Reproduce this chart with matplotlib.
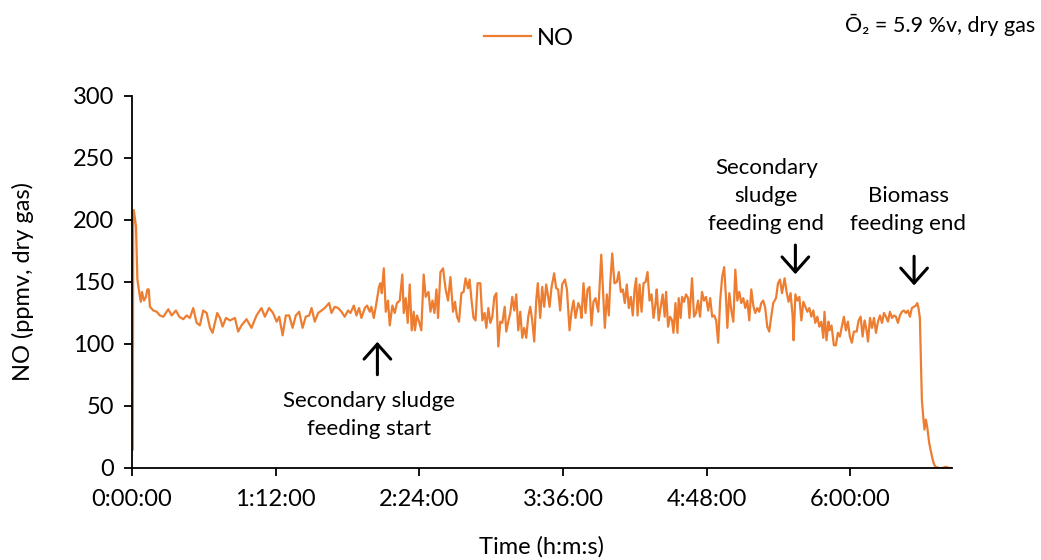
import matplotlib
matplotlib.use("Agg")
import matplotlib.pyplot as plt
from matplotlib.ticker import FuncFormatter, MultipleLocator

# NO concentration; time in minutes from start
time_min = [
    0.4, 0.6, 0.9, 2.0, 2.7, 3.7, 4.4, 5.0, 6.0, 7.0, 7.7, 8.4, 9.0, 10.7, 12.4,
    14.0, 15.7, 18.2, 19.9, 22.0, 23.7, 25.7, 27.4, 29.0, 30.7, 32.4, 34.0,
    35.7, 37.4, 39.1, 40.4, 42.7, 44.1, 45.4, 47.1, 49.1, 51.6, 53.2, 54.9,
    57.4, 59.9, 62.4, 64.9, 66.6, 68.7,
    70.7, 72.5, 73.8, 75.5, 77.1, 78.8, 80.5, 82.1, 83.8, 85.5, 87.1, 88.8,
    90.0, 91.6, 93.3, 95.0, 96.6, 98.8, 100.0, 101.6, 103.3, 105.0, 106.6,
    108.3, 109.5, 111.2, 112.5, 113.8, 115.0, 116.7, 117.8, 119.2, 120.0,
    121.2, 122.5, 123.8, 124.5, 125.2, 126.2, 127.2, 128.3, 129.2, 130.5,
    131.7, 132.8, 134.2, 135.5,
    136.2, 137.2, 138.2, 139.2, 140.2, 141.2, 141.8, 142.8, 143.9, 145.0,
    146.2, 147.2, 148.6, 149.6, 150.6, 151.6, 152.6, 153.4, 154.6, 155.9,
    157.2, 158.4, 159.6, 160.9, 161.9, 162.9, 163.9, 165.1, 166.2, 167.2,
    168.4, 169.2, 170.2, 171.2, 172.2, 173.2, 174.6, 175.6, 176.7, 177.6,
    178.6, 179.6, 180.6, 181.6, 182.6, 183.6, 184.6, 185.6, 186.8, 187.6,
    188.6, 189.6, 190.6, 191.6, 192.6, 193.6, 194.6, 195.6, 196.6, 197.6,
    198.6, 199.6, 200.6, 201.6, 202.6, 203.4, 204.6, 205.6, 206.6, 207.6,
    208.6,
    209.3, 210.3, 211.6, 212.6, 213.6, 214.6, 215.6, 217.0, 218.0, 219.3,
    220.3, 221.3, 222.3, 223.7, 224.7, 225.3, 226.3, 227.3, 228.3, 229.3,
    230.3, 231.3, 232.3, 233.7, 235.2, 236.0, 237.0, 238.0, 239.0, 239.7,
    240.7, 241.8, 243.0, 244.0, 245.0, 246.0, 247.0, 248.0, 249.0, 250.0,
    251.0, 251.9, 252.7, 253.4, 254.4, 255.4, 256.4, 257.4, 258.4, 259.4,
    260.4, 261.4, 262.4, 263.0, 264.0, 265.0, 266.0, 267.0, 267.7, 268.7,
    269.7, 270.7, 271.4, 272.4, 273.4, 274.0, 275.0, 275.7, 276.7, 277.7,
    278.7,
    279.4, 280.7, 281.7, 282.7, 283.7, 284.7, 285.7, 286.7, 287.7, 288.8,
    289.8, 290.8, 291.8, 292.8, 293.8, 294.8, 295.8, 296.8, 297.8, 298.4,
    299.4, 300.4, 301.4, 302.4, 303.4, 304.4, 305.4, 306.4, 307.4, 308.4,
    309.4, 310.4, 311.4, 312.4, 313.4, 314.4, 315.4, 316.4, 317.4, 318.4,
    319.4, 320.4, 321.4, 322.8, 323.8, 324.8, 325.8, 327.1, 328.1, 329.1,
    330.1, 331.1, 331.6, 332.5, 333.5, 334.5, 335.5, 336.5, 337.5, 338.5,
    339.5, 340.5, 341.5, 342.5, 343.5, 344.5, 345.5, 346.5, 347.1, 348.1,
    349.1,
    349.6, 350.6, 351.8, 352.8, 353.8, 354.8, 355.8, 356.8, 357.8, 358.8,
    359.8, 360.8, 361.8, 363.2, 364.2, 365.2, 366.2, 367.2, 368.2, 368.9,
    369.9, 370.9, 371.9, 372.9, 373.9, 374.9, 375.9, 376.9, 377.9, 378.9,
    379.9, 380.9, 381.9, 382.9, 383.9, 384.9, 385.9, 386.9, 387.9, 388.9,
    389.9, 390.9, 391.9, 392.9, 393.6, 394.2, 394.9, 395.4, 395.9, 396.6,
    397.2, 397.9, 398.6, 399.6, 400.6, 401.6, 402.6, 404.6, 406.2, 407.9,
    409.6, 410.8,
]
no_ppmv = [
    15, 200, 208, 195, 152, 141, 134, 142, 135, 138, 144, 144, 130, 127, 126,
    123, 122, 128, 123, 127, 122, 120, 123, 121, 129, 117, 115,
    127, 125, 113, 109, 125, 121, 114, 121, 119, 121, 110, 115,
    120, 113, 123, 129, 122, 129,
    125, 118, 122, 107, 123, 123, 113, 123, 126, 113, 122, 123,
    129, 118, 125, 127, 129, 133, 125, 130, 129, 126, 122,
    127, 125, 131, 123, 129, 121, 129, 131, 126, 130,
    121, 133, 146, 149, 141, 161, 126, 135, 115, 131,
    125, 133, 135, 156,
    125, 137, 117, 148, 111, 126, 111, 123, 118, 111,
    156, 138, 142, 126, 135, 125, 144, 121, 158, 161,
    144, 135, 154, 126, 134, 122, 118, 141, 142, 153,
    145, 152, 135, 121, 119, 149, 149, 119, 125, 113,
    129, 117, 122, 138, 141, 98, 118, 117, 130, 110,
    118, 125, 138, 127, 140, 111, 126, 105, 113, 105,
    122, 130, 119, 102, 135, 149, 121, 146, 130, 148,
    138,
    130, 146, 157, 145, 144, 127, 148, 152, 144, 111,
    126, 135, 121, 133, 129, 121, 149, 125, 144, 146,
    115, 134, 137, 126, 172, 146, 113, 140, 123, 149,
    173, 149, 150, 158, 142, 144, 133, 148, 129, 138,
    123, 144, 153, 123, 148, 126, 149, 150, 158, 135,
    140, 121, 133, 144, 119, 130, 140, 122, 142, 114,
    122, 119, 109, 133, 109, 137, 121, 138, 134, 140,
    137,
    121, 153, 122, 125, 135, 122, 142, 135, 138, 127,
    137, 122, 123, 119, 101, 135, 154, 162, 135, 113,
    141, 127, 118, 160, 135, 142, 133, 137, 129, 135,
    119, 144, 131, 125, 129, 126, 133, 135, 129, 114,
    110, 122, 133, 137, 149, 152, 141, 153, 142, 134,
    141, 123, 103, 140, 135, 138, 119, 134, 130, 126,
    129, 122, 127, 117, 122, 114, 118, 105, 126, 103,
    118,
    111, 115, 99, 99, 109, 106, 114, 122, 111, 118,
    106, 101, 110, 110, 119, 122, 106, 119, 111, 102,
    121, 113, 121, 109, 118, 123, 117, 125, 122, 118,
    126, 121, 123, 122, 117, 123, 126, 127, 125, 127,
    122, 129, 130, 131, 133, 129, 121, 87, 55, 41,
    31, 39, 33, 20, 12, 5, 1, 0, 0, 1,
    0, 0,
]

# annotations: (label, arrow x [min], arrow tail, arrow tip, text x, text y)
notes = [
    ("Secondary sludge\nfeeding start", 123, 73, 104, 119, 43),
    ("Secondary\nsludge\nfeeding end", 332.5, 182, 154, 318, 219),
    ("Biomass\nfeeding end", 392, 173, 145, 389, 208),
]

NO_COLOR = "#ED7D31"
FS = 17

plt.rcParams["font.family"] = ["Lato", "DejaVu Sans"]


def hms(x, pos):
    secs = int(round(x * 60))
    return f"{secs // 3600}:{(secs % 3600) // 60:02d}:{secs % 60:02d}"


fig = plt.figure(figsize=(10.41, 5.6), dpi=100)
ax = fig.add_axes([0.1268, 0.1643, 0.7877, 0.6643])

ax.plot(time_min, no_ppmv, color=NO_COLOR, lw=1.6, label="NO")

ax.set_xlim(0, 411)
ax.set_ylim(0, 300)
ax.xaxis.set_major_locator(MultipleLocator(72))
ax.xaxis.set_major_formatter(FuncFormatter(hms))
ax.yaxis.set_major_locator(MultipleLocator(50))
for side in ("top", "right"):
    ax.spines[side].set_visible(False)
for side in ("left", "bottom"):
    ax.spines[side].set_linewidth(1.3)
ax.tick_params(labelsize=FS, length=6, width=1.3)
ax.tick_params(axis="x", pad=9)
ax.tick_params(axis="y", pad=7)
ax.set_xlabel("Time (h:m:s)", fontsize=FS, labelpad=19)
ax.set_ylabel("NO (ppmv, dry gas)", fontsize=FS, labelpad=28)

for label, ax_x, tail, tip, tx, ty in notes:
    ax.annotate("", xy=(ax_x, tip), xytext=(ax_x, tail),
                arrowprops=dict(arrowstyle="->, head_length=0.45, head_width=0.4",
                                color="black", lw=2.2, mutation_scale=24))
    ax.text(tx, ty, label, ha="center", va="center", fontsize=16,
            linespacing=1.5)

fig.legend(loc="center", bbox_to_anchor=(0.508, 0.932), frameon=False,
           fontsize=FS, handlelength=2.0, handletextpad=0.25)
fig.text(0.994, 0.955, "Ō₂ = 5.9 %v, dry gas", ha="right", va="center",
         fontsize=15.5)

fig.savefig("out.png", dpi=100)
